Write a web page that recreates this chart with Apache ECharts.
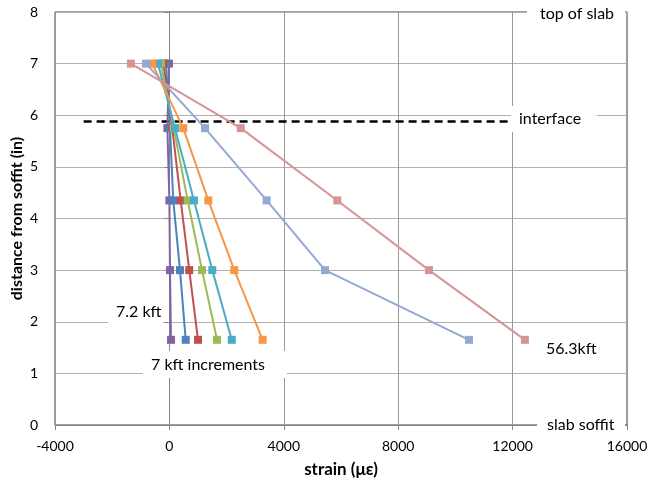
<!DOCTYPE html>
<html>
<head>
<meta charset="utf-8">
<script src="https://cdn.jsdelivr.net/npm/echarts@6/dist/echarts.min.js"></script>
<style>html,body{margin:0;padding:0;background:#fff}#c{width:652px;height:488px}</style>
</head>
<body>
<div id="c"></div>
<script>
// distance from soffit (in) of each gauge row
var heights = [7.0, 5.75, 4.35, 3.0, 1.65];
// strain (microstrain) per load step, top to bottom
var s7_2 = [-15, -70, 0, 20, 55];
var s14 = [-120, 20, 135, 370, 570];
var s21 = [-210, 100, 395, 695, 1000];
var s28 = [-295, 150, 640, 1140, 1665];
var s35 = [-400, 195, 860, 1500, 2180];
var s42 = [-600, 485, 1360, 2270, 3260];
var s49 = [-820, 1245, 3400, 5440, 10475];
var s56 = [-1345, 2495, 5870, 9075, 12430];
var seriesNames = ['7.2 kft', '14 kft', '21 kft', '28 kft', '35 kft', '42 kft', '49 kft', '56.3 kft'];
var seriesData = [s7_2, s14, s21, s28, s35, s42, s49, s56];
var colors = ['#8064A2', '#4F81BD', '#C0504D', '#9BBB59', '#4BACC6', '#F79646', '#93A9D3', '#D89494'];
// interface line
var interfaceX = [-3000, 11900];
var interfaceY = 5.88;
var xTicks = [-4000, 0, 4000, 8000, 12000, 16000];
var yTicks = [0, 1, 2, 3, 4, 5, 6, 7, 8];

var FONT = 'Lato';
var chart = echarts.init(document.getElementById('c'));
var series = seriesData.map(function (d, i) {
  return {
    name: seriesNames[i], type: 'line', data: d.map(function (v, j) { return [v, heights[j]]; }),
    symbol: 'rect', symbolSize: 8, showAllSymbol: true,
    lineStyle: { color: colors[i], width: 2 }, itemStyle: { color: colors[i] },
    z: 3 + i, animation: false
  };
});
series.unshift({
  name: 'interface', type: 'line', symbol: 'none',
  data: interfaceX.map(function (x) { return [x, interfaceY]; }),
  lineStyle: { color: '#000', width: 2.5, type: [8, 5] }, z: 2, animation: false
});

// annotation: text at (tx, ty middle) with white box (bx, by, bw, bh)
function lbl(text, tx, ty, bx, by, bw, bh) {
  return [
    { type: 'rect', z: 100, shape: { x: bx, y: by, width: bw, height: bh }, style: { fill: '#fff' } },
    { type: 'text', z: 101, x: tx, y: ty,
      style: { text: text, font: '16px ' + FONT, fill: '#000', verticalAlign: 'middle', align: 'left' } }
  ];
}

var g = [].concat(
  lbl('top of slab', 540, 14, 527, 2, 98, 24),
  lbl('slab soffit', 547, 425, 537, 413, 88, 24),
  lbl('interface', 519, 119, 511, 106, 86, 26),
  lbl('56.3kft', 546, 349, 540, 337, 66, 24),
  lbl('7.2 kft', 116, 312, 108, 300, 55, 23),
  lbl('7 kft increments', 151, 365, 143, 351, 144, 27)
);

chart.setOption({
  animation: false,
  backgroundColor: '#fff',
  grid: { left: 55, right: 25, top: 12, bottom: 63, outerBoundsMode: 'none', containLabel: false,
    show: true, borderColor: '#404040', borderWidth: 1, backgroundColor: 'transparent' },
  xAxis: {
    type: 'value', min: xTicks[0], max: xTicks[xTicks.length - 1], interval: 4000,
    name: 'strain (με)', nameLocation: 'middle', nameGap: 36, nameMoveOverlap: false,
    nameTextStyle: { fontFamily: FONT, fontWeight: 'bold', fontSize: 17, color: '#000' },
    axisLine: { show: true, lineStyle: { color: '#868686' } },
    axisTick: { show: true, length: 5, lineStyle: { color: '#868686' } },
    axisLabel: { fontFamily: FONT, fontSize: 14, color: '#000', margin: 14, formatter: function (v) { return String(v); } },
    splitLine: { show: true, lineStyle: { color: '#9a9a9a' } }
  },
  yAxis: {
    type: 'value', min: yTicks[0], max: yTicks[yTicks.length - 1], interval: 1,
    name: 'distance from soffit (in)', nameLocation: 'middle', nameGap: 30, nameMoveOverlap: false,
    nameTextStyle: { fontFamily: FONT, fontWeight: 'bold', fontSize: 16, color: '#000' },
    axisLine: { show: true, lineStyle: { color: '#868686' } },
    axisTick: { show: true, length: 5, lineStyle: { color: '#868686' } },
    axisLabel: { fontFamily: FONT, fontSize: 14, color: '#000', margin: 17 },
    splitLine: { show: true, lineStyle: { color: '#b0b0b0' } }
  },
  series: series,
  graphic: g
});
</script>
</body>
</html>
